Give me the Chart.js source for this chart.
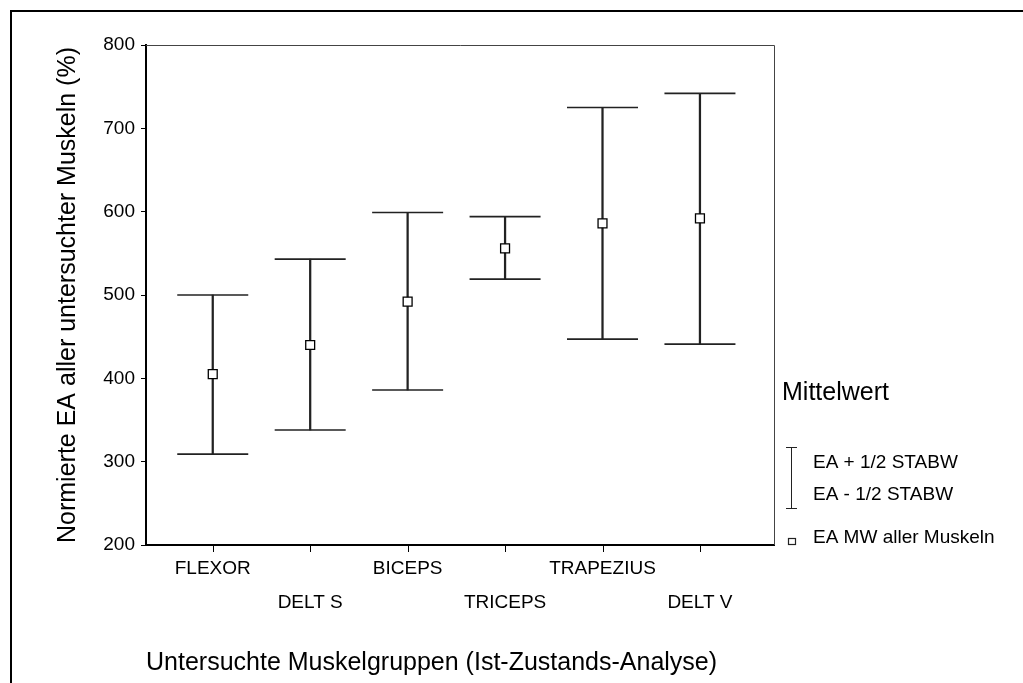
<!DOCTYPE html>
<html>
<head>
<meta charset="utf-8">
<script src="https://cdn.jsdelivr.net/npm/chart.js@4"></script>
<style>
html, body { margin: 0; padding: 0; background: #fff; overflow: hidden; }
#wrap { position: relative; width: 1023px; height: 683px; }
</style>
</head>
<body>
<div id="wrap"><canvas id="c" width="1023" height="683"></canvas></div>
<script>
// ---- data ----
const categories = ['FLEXOR', 'DELT S', 'BICEPS', 'TRICEPS', 'TRAPEZIUS', 'DELT V'];
const meanValues = [405, 440, 492, 556, 586, 592];
const upperValues = [500, 543, 599, 594, 725, 742];
const lowerValues = [309, 338, 386, 519, 447, 441];
const yTickValues = [200, 300, 400, 500, 600, 700, 800];
const yTitle = 'Normierte EA aller untersuchter Muskeln (%)';
const xTitle = 'Untersuchte Muskelgruppen (Ist-Zustands-Analyse)';
const legendTitle = 'Mittelwert';
const legendUpper = 'EA + 1/2 STABW';
const legendLower = 'EA - 1/2 STABW';
const legendMean = 'EA MW aller Muskeln';

const FONT = "'Liberation Sans', Arial, Helvetica, sans-serif";
Chart.defaults.font.family = FONT;
Chart.defaults.color = '#000';

const framePlugin = {
  id: 'framePlugin',
  afterDraw(chart) {
    const ctx = chart.ctx;
    const a = chart.chartArea;
    const xs = chart.scales.x;
    ctx.save();
    // thin top/right frame of plot area
    ctx.strokeStyle = '#444';
    ctx.lineWidth = 1;
    ctx.beginPath();
    ctx.moveTo(a.left, a.top + 0.5);
    ctx.lineTo(a.right + 0.5, a.top + 0.5);
    ctx.lineTo(a.right + 0.5, a.bottom);
    ctx.stroke();
    // x tick marks at every category
    ctx.strokeStyle = '#000';
    ctx.lineWidth = 1;
    ctx.beginPath();
    categories.forEach((c, i) => {
      const px = Math.round(xs.getPixelForValue(i)) + 0.5;
      ctx.moveTo(px, a.bottom);
      ctx.lineTo(px, a.bottom + 7);
    });
    ctx.stroke();
    // outer page frame
    ctx.strokeStyle = '#000';
    ctx.lineWidth = 2;
    ctx.beginPath();
    ctx.moveTo(11, 683);
    ctx.lineTo(11, 11);
    ctx.lineTo(1023, 11);
    ctx.stroke();
    // legend
    ctx.fillStyle = '#000';
    ctx.textBaseline = 'alphabetic';
    ctx.textAlign = 'left';
    ctx.font = '25px ' + FONT;
    ctx.fillText(legendTitle, 782, 400);
    ctx.font = '19px ' + FONT;
    ctx.fillText(legendUpper, 813, 468);
    ctx.fillText(legendLower, 813, 500);
    ctx.fillText(legendMean, 813, 543);
    ctx.strokeStyle = '#222';
    ctx.lineWidth = 1;
    ctx.beginPath();
    ctx.moveTo(791.5, 447);
    ctx.lineTo(791.5, 509);
    ctx.moveTo(786, 447.5);
    ctx.lineTo(797, 447.5);
    ctx.moveTo(786, 508.5);
    ctx.lineTo(797, 508.5);
    ctx.stroke();
    ctx.lineWidth = 1.2;
    ctx.strokeRect(788.5, 538.5, 7, 6);
    ctx.restore();
  }
};

new Chart(document.getElementById('c'), {
  data: {
    datasets: [
      {
        type: 'scatter',
        label: 'mean',
        order: 0,
        data: categories.map((c, i) => ({ x: i, y: meanValues[i] })),
        pointStyle: 'rect',
        pointRadius: 6.3,
        pointBackgroundColor: '#fff',
        pointBorderColor: '#000',
        pointBorderWidth: 1.3
      },
      {
        type: 'scatter',
        label: 'upper',
        order: 1,
        data: categories.map((c, i) => ({ x: i, y: upperValues[i] })),
        pointStyle: 'line',
        pointRadius: 35.5,
        pointBorderColor: '#222',
        pointBorderWidth: 1.6
      },
      {
        type: 'scatter',
        label: 'lower',
        order: 1,
        data: categories.map((c, i) => ({ x: i, y: lowerValues[i] })),
        pointStyle: 'line',
        pointRadius: 35.5,
        pointBorderColor: '#222',
        pointBorderWidth: 1.6
      },
      {
        type: 'bar',
        label: 'range',
        order: 2,
        data: categories.map((c, i) => ({ x: i, y: [lowerValues[i], upperValues[i]] })),
        backgroundColor: '#222',
        borderWidth: 0,
        barThickness: 1.6
      }
    ]
  },
  options: {
    responsive: false,
    animation: false,
    events: [],
    devicePixelRatio: 1,
    layout: { padding: { top: 45, right: 249, left: 0, bottom: 0 } },
    plugins: { legend: { display: false }, tooltip: { enabled: false } },
    scales: {
      x: {
        type: 'linear',
        position: 'bottom',
        min: -0.685,
        max: 5.76,
        offset: false,
        afterBuildTicks: (axis) => { axis.ticks = categories.map((c, i) => ({ value: i })); },
        afterFit: (axis) => { axis.height = 138; },
        grid: { offset: false, drawOnChartArea: false, drawTicks: false, color: '#000', lineWidth: 1 },
        border: { display: true, color: '#000', width: 2 },
        ticks: {
          autoSkip: false,
          maxRotation: 0,
          padding: 7,
          color: '#000',
          font: { size: 19, lineHeight: 34 / 19 },
          callback: (v) => {
            const i = Math.round(v);
            return i % 2 === 0 ? categories[i] : ['', categories[i]];
          }
        },
        title: {
          display: true,
          text: xTitle,
          align: 'start',
          color: '#000',
          font: { size: 25 },
          padding: { top: 0, bottom: 5 }
        }
      },
      y: {
        type: 'linear',
        position: 'left',
        min: 200,
        max: 800,
        afterBuildTicks: (axis) => { axis.ticks = yTickValues.map(v => ({ value: v })); },
        afterFit: (axis) => { axis.width = 146; },
        grid: { drawOnChartArea: false, drawTicks: true, tickLength: 5, color: '#000', lineWidth: 1 },
        border: { display: true, color: '#000', width: 2 },
        ticks: { padding: 6, color: '#000', font: { size: 19 } },
        title: {
          display: true,
          text: yTitle,
          color: '#000',
          font: { size: 25 },
          padding: { top: 53, bottom: 0 }
        }
      }
    }
  },
  plugins: [framePlugin]
});
</script>
</body>
</html>
